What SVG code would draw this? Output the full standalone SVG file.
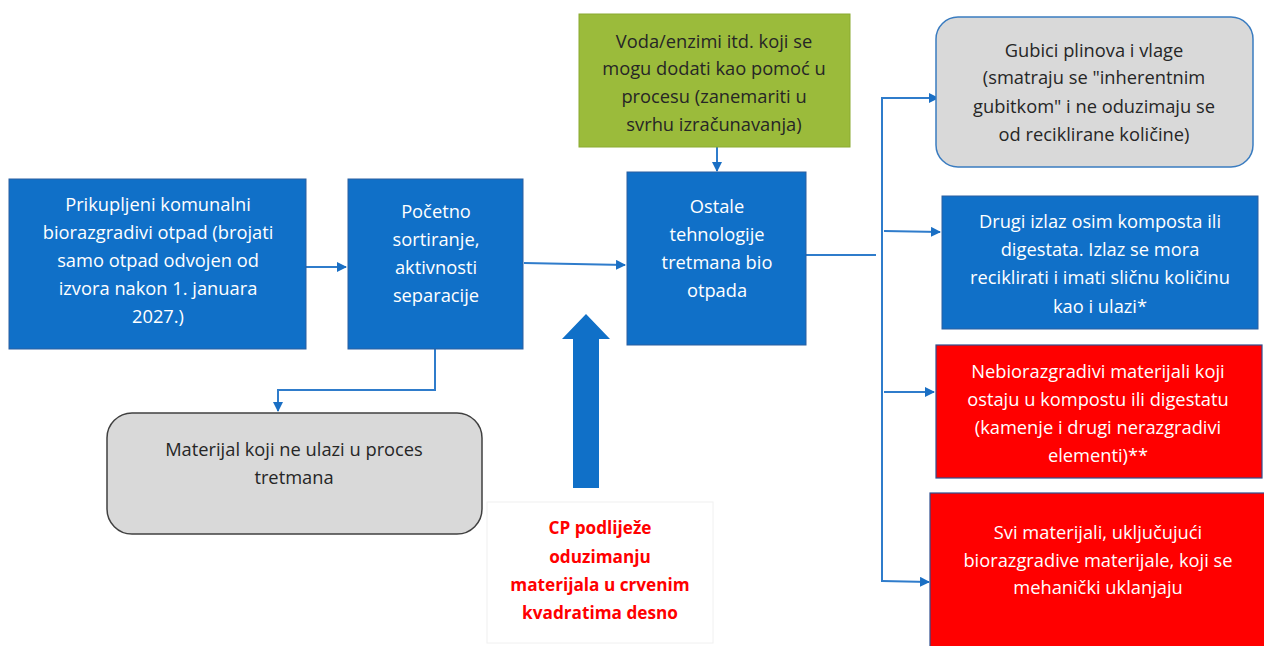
<svg xmlns="http://www.w3.org/2000/svg" width="1264" height="646" viewBox="0 0 1264 646">
<style>
.t{font-family:"Open Sans","Liberation Sans",Arial,sans-serif;font-size:18.3px;text-anchor:middle}
.w{fill:#ffffff}
.d{fill:#262626}
.r{fill:#ff0000;font-weight:bold;font-size:17.2px}
.blue{fill:#1070C8;stroke:#2A5FA0;stroke-width:1}
.gray{fill:#D9D9D9}
.red{fill:#FF0000;stroke:#2F4F8F;stroke-width:1.2}
.c{fill:none;stroke:#2F7CCB;stroke-width:2}
</style>
<defs>
<marker id="ah" markerWidth="10" markerHeight="10" refX="9" refY="5" orient="auto" markerUnits="userSpaceOnUse">
<path d="M0,0 L10,5 L0,10 Z" fill="#1A6FC4"/>
</marker>
</defs>
<rect width="1264" height="646" fill="#ffffff"/>

<g id="connectors">
<line class="c" x1="306" y1="267" x2="346" y2="267" marker-end="url(#ah)"/>
<line class="c" x1="524" y1="263" x2="625" y2="265" marker-end="url(#ah)"/>
<line class="c" x1="717" y1="147" x2="717" y2="171" marker-end="url(#ah)"/>
<polyline class="c" points="435,349 435,390 278,390 278,411" marker-end="url(#ah)"/>
<line class="c" x1="806" y1="255" x2="876" y2="255"/>
<line class="c" x1="882" y1="97" x2="882" y2="582"/>
<polyline class="c" points="882,98 938,98" marker-end="url(#ah)"/>
<line class="c" x1="884" y1="231" x2="940" y2="232" marker-end="url(#ah)"/>
<line class="c" x1="884" y1="392" x2="934" y2="392" marker-end="url(#ah)"/>
<line class="c" x1="882" y1="581" x2="929" y2="582" marker-end="url(#ah)"/>
</g>

<g id="n1">
<rect class="blue" x="9" y="179" width="297" height="170"/>
<text class="t w" x="158" y="211">Prikupljeni komunalni</text>
<text class="t w" x="158" y="239">biorazgradivi otpad (brojati</text>
<text class="t w" x="158" y="267">samo otpad odvojen od</text>
<text class="t w" x="158" y="295">izvora nakon 1. januara</text>
<text class="t w" x="158" y="323">2027.)</text>
</g>

<g id="n2">
<rect class="blue" x="348" y="179" width="175" height="170"/>
<text class="t w" x="436" y="218">Početno</text>
<text class="t w" x="436" y="246">sortiranje,</text>
<text class="t w" x="436" y="274">aktivnosti</text>
<text class="t w" x="436" y="302">separacije</text>
</g>

<g id="n3">
<rect x="579" y="14" width="271" height="133" fill="#9BBB3B" stroke="#8AAA30"/>
<text class="t d" x="714" y="48">Voda/enzimi itd. koji se</text>
<text class="t d" x="714" y="75">mogu dodati kao pomoć u</text>
<text class="t d" x="714" y="103">procesu (zanemariti  u</text>
<text class="t d" x="714" y="131">svrhu izračunavanja)</text>
</g>

<g id="n4">
<rect class="blue" x="627" y="172" width="179" height="173"/>
<text class="t w" x="717" y="213">Ostale</text>
<text class="t w" x="717" y="241">tehnologije</text>
<text class="t w" x="717" y="269">tretmana bio</text>
<text class="t w" x="717" y="297">otpada</text>
</g>

<g id="n5">
<rect class="gray" x="936" y="17" width="317" height="150" rx="22" stroke="#3A7CC0" stroke-width="1.5"/>
<text class="t d" x="1094" y="57">Gubici plinova i vlage</text>
<text class="t d" x="1094" y="84">(smatraju se "inherentnim</text>
<text class="t d" x="1094" y="113">gubitkom" i ne oduzimaju se</text>
<text class="t d" x="1094" y="141">od reciklirane količine)</text>
</g>

<g id="n6">
<rect class="blue" x="942" y="196" width="316" height="133"/>
<text class="t w" x="1100" y="228">Drugi izlaz osim komposta ili</text>
<text class="t w" x="1100" y="256">digestata. Izlaz se mora</text>
<text class="t w" x="1100" y="284">reciklirati i imati sličnu količinu</text>
<text class="t w" x="1100" y="313">kao i ulazi*</text>
</g>

<g id="n7">
<rect class="red" x="936" y="345" width="326" height="133"/>
<text class="t w" x="1098" y="378">Nebiorazgradivi materijali koji</text>
<text class="t w" x="1098" y="406">ostaju u kompostu ili digestatu</text>
<text class="t w" x="1098" y="434">(kamenje i drugi nerazgradivi</text>
<text class="t w" x="1098" y="462">elementi)**</text>
</g>

<g id="n8">
<rect class="red" x="930" y="493" width="340" height="160"/>
<text class="t w" x="1098" y="539">Svi materijali, uključujući</text>
<text class="t w" x="1098" y="567">biorazgradive materijale, koji se</text>
<text class="t w" x="1098" y="594">mehanički uklanjaju</text>
</g>

<g id="n9">
<rect class="gray" x="107" y="413" width="375" height="121" rx="25" stroke="#404040" stroke-width="1.5"/>
<text class="t d" x="294" y="456">Materijal koji ne ulazi u proces</text>
<text class="t d" x="294" y="484">tretmana</text>
</g>

<g id="n10">
<path d="M573,488 L573,339 L562,339 L586,314 L610,339 L599,339 L599,488 Z" fill="#1070C8"/>
</g>

<g id="n11">
<rect x="487" y="502" width="226" height="141" fill="#ffffff" stroke="#F0F0F0"/>
<text class="t r" x="600" y="534">CP podliježe</text>
<text class="t r" x="600" y="563">oduzimanju</text>
<text class="t r" x="600" y="591">materijala u crvenim</text>
<text class="t r" x="600" y="619">kvadratima desno</text>
</g>
</svg>
